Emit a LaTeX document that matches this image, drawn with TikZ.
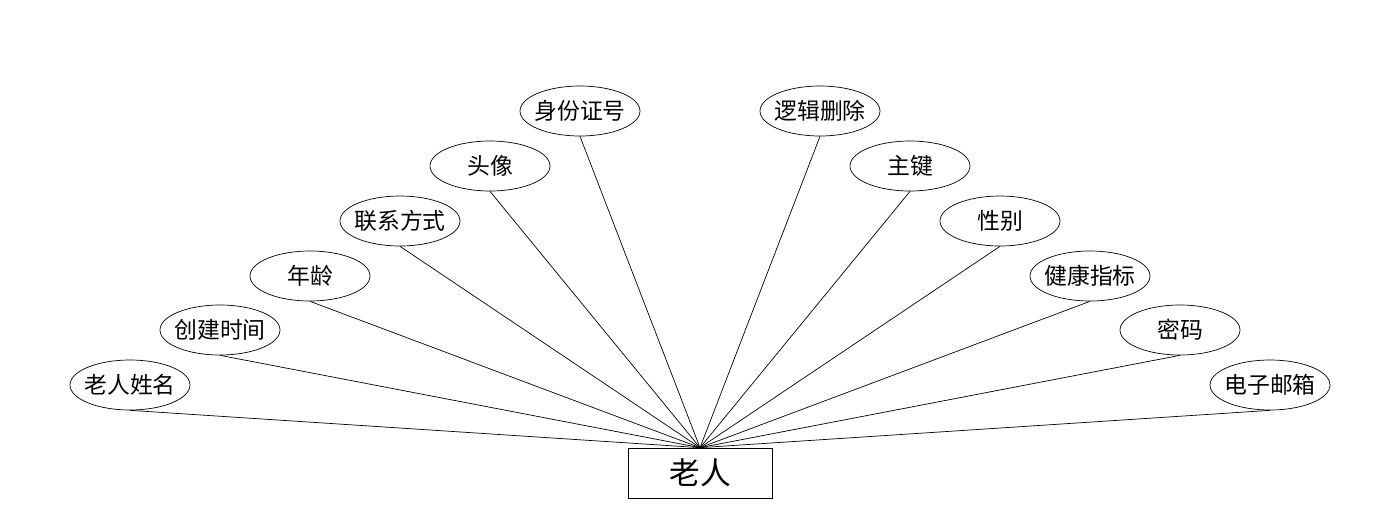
\documentclass[tikz,border=0pt]{standalone}
\usepackage{fontspec}
\newfontfamily\cjk{Noto Sans CJK SC}
\usetikzlibrary{shapes.geometric}

\begin{document}
\begin{tikzpicture}[x=0.02cm, y=-0.02cm]
    % 1. Khung hiển thị
    \useasboundingbox (0, 0) rectangle (1400, 528);
    \tikzset{
        attr/.style={draw, ellipse, inner xsep=-3pt, inner ysep=0pt, minimum width=2.4cm, minimum height=1cm,
            font=\cjk\fontsize{13}{15}\selectfont},
        entity/.style={draw, rectangle, inner sep=0pt, minimum width=2.88cm, minimum height=1cm,
            font=\cjk\fontsize{17.5}{20}\selectfont}
    }

    % 2. Thực thể trung tâm
    \node[entity] (laoren) at (700, 473) {老人};

    % 3. Các thuộc tính (bên trái)
    \node[attr] (xingming) at (130, 385) {老人姓名};
    \node[attr] (chuangjian) at (220, 330) {创建时间};
    \node[attr] (nianling) at (310, 276) {年龄};
    \node[attr] (lianxi) at (400, 221) {联系方式};
    \node[attr] (touxiang) at (490, 166) {头像};
    \node[attr] (shenfen) at (580, 111) {身份证号};

    % Các thuộc tính (bên phải)
    \node[attr] (luoji) at (820, 111) {逻辑删除};
    \node[attr] (zhujian) at (910, 166) {主键};
    \node[attr] (xingbie) at (1000, 221) {性别};
    \node[attr] (jiankang) at (1090, 276) {健康指标};
    \node[attr] (mima) at (1180, 330) {密码};
    \node[attr] (youxiang) at (1270, 385) {电子邮箱};

    % 4. Các đường nối
    \foreach \a in {xingming, chuangjian, nianling, lianxi, touxiang, shenfen,
                    luoji, zhujian, xingbie, jiankang, mima, youxiang}
        \draw (\a.south) -- (laoren.north);

\end{tikzpicture}
\end{document}
